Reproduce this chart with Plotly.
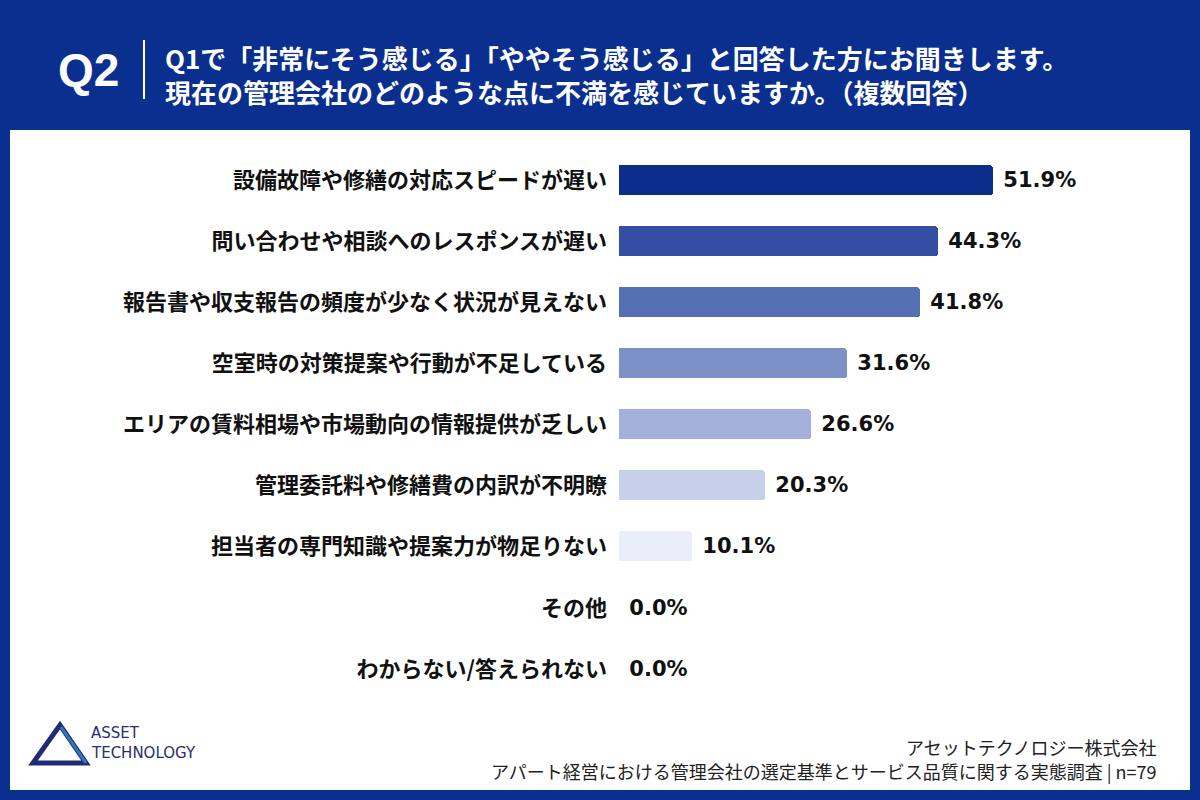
import plotly.graph_objects as go

categories = [
    "設備故障や修繕の対応スピードが遅い",
    "問い合わせや相談へのレスポンスが遅い",
    "報告書や収支報告の頻度が少なく状況が見えない",
    "空室時の対策提案や行動が不足している",
    "エリアの賃料相場や市場動向の情報提供が乏しい",
    "管理委託料や修繕費の内訳が不明瞭",
    "担当者の専門知識や提案力が物足りない",
    "その他",
    "わからない/答えられない",
]
values = [51.9, 44.3, 41.8, 31.6, 26.6, 20.3, 10.1, 0.0, 0.0]
bar_colors = ["#0B2D8C", "#334EA2", "#5670B4", "#7D91C7", "#A4B1DB", "#C6D0E9", "#E9EEF8", "#E9EEF8", "#E9EEF8"]

title_line1 = "Q1で「非常にそう感じる」「ややそう感じる」と回答した方にお聞きします。"
title_line2 = "現在の管理会社のどのような点に不満を感じていますか。（複数回答）"
footer_line1 = "アセットテクノロジー株式会社"
footer_line2 = "アパート経営における管理会社の選定基準とサービス品質に関する実態調査 | n=79"

W, H = 1200, 800
BG = "#0B2F8F"
JP = "Noto Sans CJK JP"


def px(x):
    return x / W


def py(y):
    return (H - y) / H


x_start = 619
px_per_pct = 7.206
x_end = 1190
y_top = 149.4
y_bot = 699.6

fig = go.Figure(
    go.Bar(
        x=values,
        y=categories,
        orientation="h",
        marker=dict(color=bar_colors, cornerradius=3, line=dict(width=0)),
        width=0.49,
        text=values,
        texttemplate=" %{x:.1f}%",
        textposition="outside",
        constraintext="none",
        cliponaxis=False,
        textfont=dict(family="DejaVu Sans", size=21, color="#111111", weight="bold"),
        hoverinfo="skip",
    )
)

fig.update_layout(
    width=W,
    height=H,
    margin=dict(l=0, r=0, t=0, b=0),
    paper_bgcolor=BG,
    plot_bgcolor="rgba(0,0,0,0)",
    showlegend=False,
    bargap=0,
    xaxis=dict(
        domain=[px(x_start), px(x_end)],
        range=[0, (x_end - x_start) / px_per_pct],
        visible=False,
        fixedrange=True,
    ),
    yaxis=dict(
        domain=[py(y_bot), py(y_top)],
        categoryorder="array",
        categoryarray=categories,
        autorange="reversed",
        showgrid=False,
        zeroline=False,
        showline=False,
        ticks="",
        ticklabelstandoff=11,
        tickfont=dict(family=JP, size=22, color="#111111", weight="bold"),
        fixedrange=True,
    ),
    shapes=[
        dict(type="rect", xref="paper", yref="paper", x0=px(10), x1=px(1190), y0=py(790), y1=py(130),
             fillcolor="#FFFFFF", line=dict(width=0), layer="below"),
        dict(type="line", xref="paper", yref="paper", x0=px(144), x1=px(144), y0=py(40), y1=py(99),
             line=dict(color="#FFFFFF", width=2)),
        # logo triangle
        dict(type="path", xref="paper", yref="paper",
             path=f"M {px(33)},{py(763)} L {px(60)},{py(725)} L {px(86)},{py(763)} Z",
             line=dict(color="#232A74", width=5), fillcolor="rgba(0,0,0,0)"),
        dict(type="line", xref="paper", yref="paper", x0=px(61), x1=px(86), y0=py(727), y1=py(763),
             line=dict(color="#2C7BC0", width=3)),
    ],
    annotations=[
        dict(text="Q2", x=px(56), y=py(70), xref="paper", yref="paper", xanchor="left", yanchor="middle",
             showarrow=False, font=dict(family="Liberation Sans", size=46, color="#FFFFFF", weight="bold")),
        dict(text=title_line1, x=px(163), y=py(57), xref="paper", yref="paper", xanchor="left", yanchor="middle",
             showarrow=False, font=dict(family=JP, size=26, color="#FFFFFF", weight="bold")),
        dict(text=title_line2, x=px(163), y=py(91), xref="paper", yref="paper", xanchor="left", yanchor="middle",
             showarrow=False, font=dict(family=JP, size=26, color="#FFFFFF", weight="bold")),
        dict(text=footer_line1, x=px(1159), y=py(747), xref="paper", yref="paper", xanchor="right", yanchor="middle",
             showarrow=False, font=dict(family=JP, size=18, color="#222222")),
        dict(text=footer_line2, x=px(1159), y=py(771), xref="paper", yref="paper", xanchor="right", yanchor="middle",
             showarrow=False, font=dict(family=JP, size=18, color="#222222")),
        dict(text="ASSET", x=px(89), y=py(733), xref="paper", yref="paper", xanchor="left", yanchor="middle",
             showarrow=False, font=dict(family="DejaVu Sans", size=15, color="#2B2D6E")),
        dict(text="TECHNOLOGY", x=px(89), y=py(753), xref="paper", yref="paper", xanchor="left", yanchor="middle",
             showarrow=False, font=dict(family="DejaVu Sans", size=15, color="#2B2D6E")),
    ],
)

fig.write_html("out.html")
